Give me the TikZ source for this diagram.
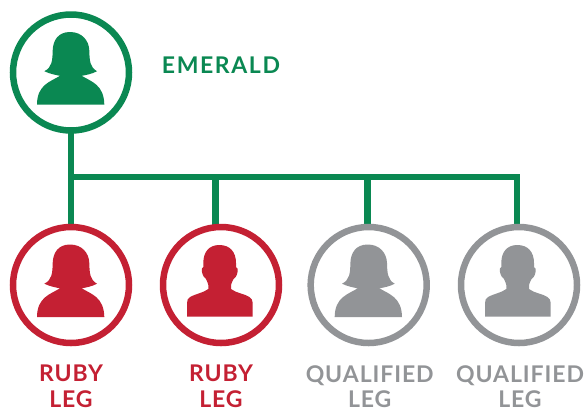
\documentclass[tikz,border=0pt]{standalone}
\usepackage{fontspec}
\setmainfont{Lato}[BoldFont={Lato Bold},LetterSpace=4]
\newfontfamily\wideface{Lato Bold}[LetterSpace=7]
\definecolor{emer}{HTML}{0A8852}
\definecolor{ruby}{HTML}{C42033}
\definecolor{qual}{HTML}{929497}
\tikzset{
  x=1pt,y=-1pt,
  ring/.style={circle,draw=#1,line width=6.5pt,fill=white,minimum size=116pt,inner sep=0pt},
  conn/.style={draw=emer,line width=6.2pt},
  lab/.style={text=#1,font=\bfseries\fontsize{23}{25.5}\selectfont,align=center,inner sep=0pt,anchor=north},
  pics/female/.style={code={
    \fill[#1] (-1,-40.5) .. controls (-13,-40.5) and (-18,-32) .. (-18.3,-22)
      .. controls (-18.5,-12) and (-19,-5) .. (-26.7,-1.3)
      .. controls (-21,1.5) and (-15,2.5) .. (-11,3.3)
      .. controls (-20,9) and (-34,12) .. (-34,32)
      -- (33.3,32)
      .. controls (33,12) and (20,9) .. (10.7,3.3)
      .. controls (15,2.5) and (21,1.5) .. (26,-1.3)
      .. controls (19,-5) and (18.5,-12) .. (18.3,-22)
      .. controls (18,-32) and (11,-40.5) .. (-1,-40.5) -- cycle;
  }},
  pics/male/.style={code={
    \fill[#1] (-1.7,-40) .. controls (-12,-40) and (-17.7,-33) .. (-17.7,-22)
      -- (-17.7,-18) .. controls (-19.5,-18) and (-19.5,-15) .. (-19,-13)
      .. controls (-18.5,-9) and (-16,-7) .. (-15,-6)
      .. controls (-14,-3) and (-12.7,-2) .. (-12.7,0) -- (-12.7,4)
      .. controls (-18,8) and (-26,9) .. (-31,12)
      .. controls (-33,13.5) and (-34,15) .. (-34,18)
      -- (-34,31.7) -- (31.7,31.7) -- (31.7,18)
      .. controls (31.7,15) and (30.5,13.5) .. (28.5,12)
      .. controls (24,9) and (15,8) .. (10,4)
      -- (10,0) .. controls (10,-2) and (11.5,-3) .. (12.5,-6)
      .. controls (14,-7) and (16,-9) .. (16.5,-13)
      .. controls (17,-15) and (17,-18) .. (15,-18)
      -- (15,-22) .. controls (15,-33) and (9,-40) .. (-1.7,-40) -- cycle;
  }},
}
\begin{document}
\begin{tikzpicture}
\useasboundingbox (0,0) rectangle (586,410);
\coordinate (corner) at (71,177);
\coordinate (end) at (517,177);
\coordinate (j1) at (215.5,177);
\coordinate (j2) at (367.5,177);
\coordinate (t1) at (215.5,232);
\coordinate (t2) at (367.5,232);
\coordinate (t3) at (517,232);
\coordinate (e0) at (71,72.5);
\coordinate (r0) at (71,285);
\draw[conn] (e0) -- (r0);
\draw[conn,line cap=rect] (corner) -- (end);
\draw[conn] (j1) -- (t1);
\draw[conn] (j2) -- (t2);
\draw[conn] (end) -- (t3);
\node[ring=emer] (em) at (e0) {};
\node[ring=ruby] (r1) at (r0) {};
\node[ring=ruby] (r2) at (221,285) {};
\node[ring=qual] (q1) at (368.7,285) {};
\node[ring=qual] (q2) at (519,285) {};
\pic at (em) {female=emer};
\pic at (r1) {female=ruby};
\pic at (r2) {male=ruby};
\pic at (q1) {female=qual};
\pic at (q2) {male=qual};
\node[text=emer,font=\wideface\fontsize{23}{26}\selectfont,inner sep=0pt,anchor=center] (tem) at (221,65.5) {EMERALD};
\node[lab=ruby] (l1) at (71,365) {RUBY\\LEG};
\node[lab=ruby] (l2) at (221,365) {RUBY\\LEG};
\node[lab=qual] (l3) at (369.7,365) {QUALIFIED\\LEG};
\node[lab=qual] (l4) at (520,365) {QUALIFIED\\LEG};
\end{tikzpicture}
\end{document}
